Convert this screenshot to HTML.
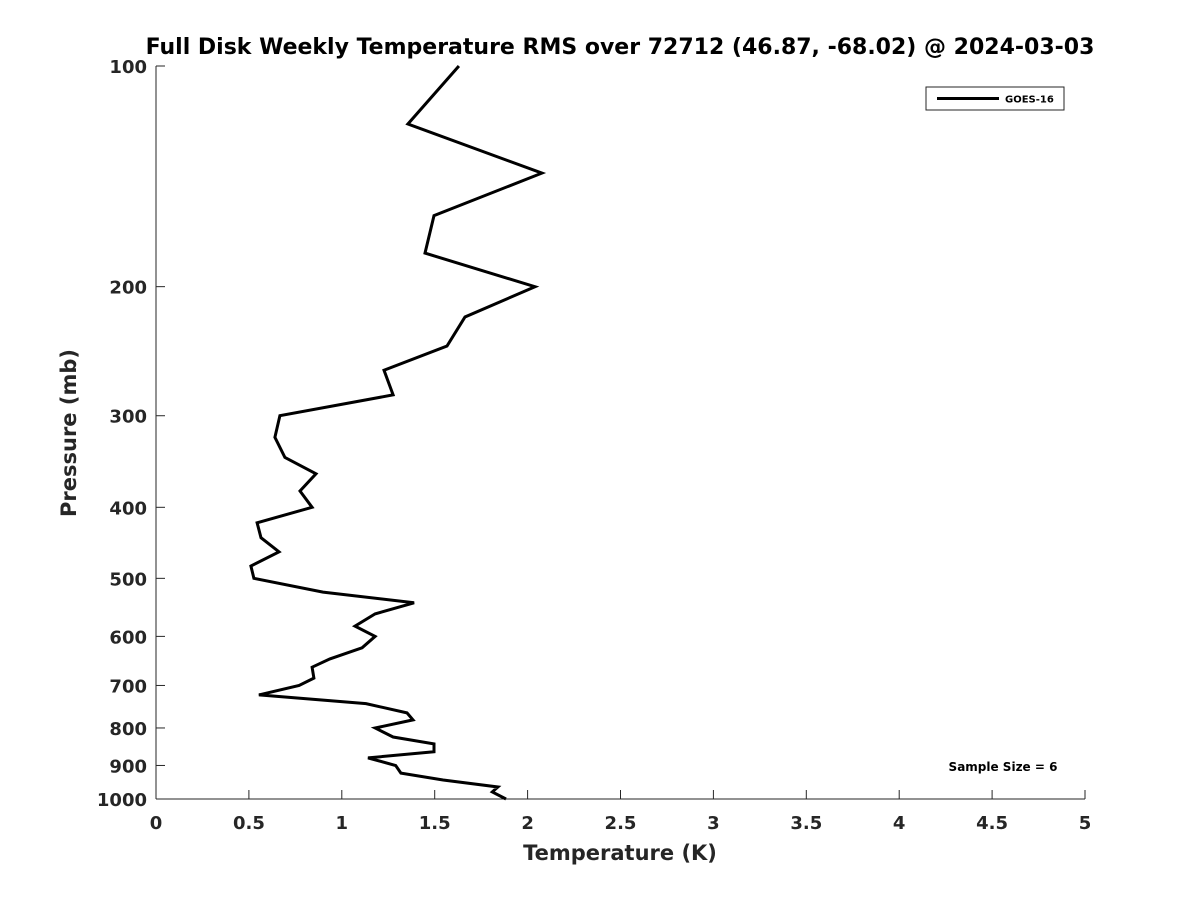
<!DOCTYPE html>
<html><head><meta charset="utf-8"><style>
body{margin:0;background:#fff;}
svg text{font-family:"DejaVu Sans","Liberation Sans",sans-serif;font-weight:bold;fill:#262626;}
</style></head><body>
<svg id="chart" width="1200" height="900" viewBox="0 0 1200 900" xmlns="http://www.w3.org/2000/svg">
<rect width="1200" height="900" fill="#fff"/>
<text x="620" y="54" font-size="22" text-anchor="middle" style="fill:#000">Full Disk Weekly Temperature RMS over 72712 (46.87, -68.02) @ 2024-03-03</text>
<g id="axes"></g>
<g id="series"></g>
<g>
<rect x="926" y="87" width="138" height="23" fill="#fff" stroke="#262626" stroke-width="1"/>
<line x1="937" y1="98.5" x2="999" y2="98.5" stroke="#000" stroke-width="3"/>
<text x="1005" y="102.5" font-size="10" style="fill:#000">GOES-16</text>
</g>
<text x="1003" y="771" font-size="12" text-anchor="middle" style="fill:#000">Sample Size = 6</text>
<text x="620" y="860" font-size="21" text-anchor="middle">Temperature (K)</text>
<text x="0" y="0" font-size="21" text-anchor="middle" transform="translate(76,433) rotate(-90)">Pressure (mb)</text>
</svg>
<script>
const xTicks=[0,0.5,1,1.5,2,2.5,3,3.5,4,4.5,5];
const xTickLabels=["0","0.5","1","1.5","2","2.5","3","3.5","4","4.5","5"];
const yTicks=[100,200,300,400,500,600,700,800,900,1000];
const yTickLabels=["100","200","300","400","500","600","700","800","900","1000"];
const pressure=[100,120,140,160,180,200,220,241,260,281,300,321,342,360,380,400,420,440,460,481,500,522,540,559,581,600,622,644,661,684,700,721,741,763,780,800,823,841,862,879,900,922,942,963,978,1000];
const rms=[1.63,1.356,2.077,1.496,1.448,2.04,1.663,1.566,1.227,1.276,0.667,0.64,0.694,0.861,0.775,0.84,0.544,0.565,0.662,0.511,0.527,0.899,1.389,1.179,1.071,1.179,1.109,0.936,0.84,0.85,0.77,0.554,1.13,1.351,1.383,1.18,1.276,1.496,1.496,1.141,1.29,1.318,1.545,1.84,1.81,1.884];
const X0=156,X1=1085,Y0=66,Y1=799;
const xs=v=>X0+(v/5)*(X1-X0);
const ys=p=>Y0+(Math.log10(p)-2)*(Y1-Y0);
const NS="http://www.w3.org/2000/svg";
const axes=document.getElementById('axes');
function mk(tag,attrs,parent){const e=document.createElementNS(NS,tag);for(const k in attrs)e.setAttribute(k,attrs[k]);parent.appendChild(e);return e;}
let l=mk('line',{x1:X0,y1:Y1,x2:X1,y2:Y1,stroke:'#262626','stroke-width':1},axes);


l=mk('line',{x1:X0,y1:Y0,x2:X0,y2:Y1,stroke:'#262626','stroke-width':1},axes);


xTicks.forEach((v,i)=>{
 const x=xs(v);
 const t=mk('line',{x1:x,y1:Y1,x2:x,y2:Y1-9,stroke:'#262626','stroke-width':1},axes);
 
 
 const tx=mk('text',{x:x,y:Y1+30,'font-size':18,'text-anchor':'middle'},axes);
 tx.textContent=xTickLabels[i];
 
 
});
yTicks.forEach((p,i)=>{
 const y=ys(p);
 const t=mk('line',{x1:X0,y1:y,x2:X0+9,y2:y,stroke:'#262626','stroke-width':1},axes);
 
 
 const tx=mk('text',{x:X0-9,y:y+7,'font-size':18,'text-anchor':'end'},axes);
 tx.textContent=yTickLabels[i];
 
 
});
const pts=pressure.map((p,i)=>xs(rms[i]).toFixed(1)+','+ys(p).toFixed(1)).join(' ');
const line=mk('polyline',{points:pts,fill:'none',stroke:'#000','stroke-width':3,'stroke-linejoin':'miter'},document.getElementById('series'));


</script>
</body></html>
